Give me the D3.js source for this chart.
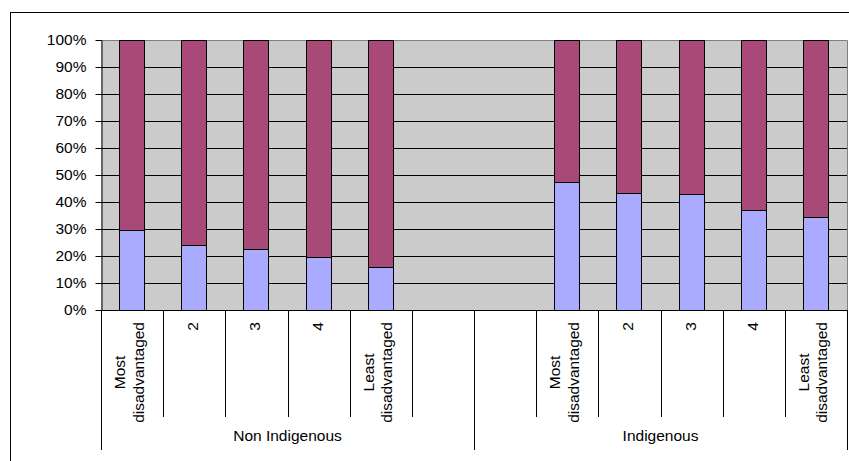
<!DOCTYPE html>
<html>
<head>
<meta charset="utf-8">
<script src="https://cdn.jsdelivr.net/npm/d3@7"></script>
<style>
  html, body { margin: 0; padding: 0; background: #fff; }
  svg { display: block; font-family: "Liberation Sans", Arial, sans-serif; }
</style>
</head>
<body>
<div id="chart-container"></div>
<script>
const width = 849;
const height = 461;
const plot = { left: 101, right: 847, top: 40, bottom: 310 };
const fontSize = 15.5;

// data (percent of each bar)
const groups = ["Non Indigenous", "Indigenous"];
const quintiles = ["Most disadvantaged", "2", "3", "4", "Least disadvantaged"];
const nonIndigenousLower = [29.6, 23.9, 22.5, 19.7, 15.8];
const nonIndigenousUpper = [70.4, 76.1, 77.5, 80.3, 84.2];
const indigenousLower = [47.3, 43.2, 42.8, 37.0, 34.6];
const indigenousUpper = [52.7, 56.8, 57.2, 63.0, 65.4];
const yTicks = [0, 10, 20, 30, 40, 50, 60, 70, 80, 90, 100];

const colors = { lower: "#aaaaff", upper: "#a84977", plotBg: "#cbcbcb" };

// twelve category slots: each group has a blank slot on the inside
const slots = [];
quintiles.forEach((q, i) => slots.push({ key: `n${i}`, group: 0, label: q, lower: nonIndigenousLower[i], upper: nonIndigenousUpper[i] }));
slots.push({ key: "n-blank", group: 0, label: "", lower: null, upper: null });
slots.push({ key: "i-blank", group: 1, label: "", lower: null, upper: null });
quintiles.forEach((q, i) => slots.push({ key: `i${i}`, group: 1, label: q, lower: indigenousLower[i], upper: indigenousUpper[i] }));

const svg = d3.select("#chart-container")
  .append("svg")
  .attr("width", width)
  .attr("height", height);

// chart border
svg.append("rect")
  .attr("x", 10.5).attr("y", 12.5)
  .attr("width", width + 10).attr("height", height + 10)
  .attr("fill", "#fff").attr("stroke", "#000");

const x = d3.scaleBand()
  .domain(slots.map((d) => d.key))
  .range([plot.left, plot.right])
  .padding(0);

const y = d3.scaleLinear().domain([0, 100]).range([plot.bottom, plot.top]);

// plot area
svg.append("rect")
  .attr("x", plot.left).attr("y", plot.top)
  .attr("width", plot.right - plot.left).attr("height", plot.bottom - plot.top)
  .attr("fill", colors.plotBg);

// gridlines
svg.append("g")
  .selectAll("line")
  .data(yTicks.filter((t) => t > 0 && t < 100))
  .join("line")
  .attr("x1", plot.left).attr("x2", plot.right)
  .attr("y1", (d) => Math.round(y(d)) + 0.5).attr("y2", (d) => Math.round(y(d)) + 0.5)
  .attr("stroke", "#000");

// plot border (grey top/right)
svg.append("path")
  .attr("d", `M${plot.left},${plot.top + 0.5}H${plot.right + 0.5}V${plot.bottom}`)
  .attr("fill", "none").attr("stroke", "#808080");

// bars
const barW = x.bandwidth() / 2.5;
const bars = svg.append("g");
slots.filter((d) => d.lower !== null).forEach((d) => {
  const bx = Math.floor(x(d.key) + (x.bandwidth() - barW) / 2) + 0.5;
  const total = d.lower + d.upper;
  const yl = y((d.lower / total) * 100);
  bars.append("rect")
    .attr("x", bx).attr("y", Math.round(yl) + 0.5)
    .attr("width", Math.round(barW)).attr("height", Math.round(y(0) - yl))
    .attr("fill", colors.lower).attr("stroke", "#000");
  bars.append("rect")
    .attr("x", bx).attr("y", Math.round(y(100)) + 0.5)
    .attr("width", Math.round(barW)).attr("height", Math.round(yl - y(100)))
    .attr("fill", colors.upper).attr("stroke", "#000");
});

// y axis
const yAxis = svg.append("g")
  .attr("transform", `translate(${plot.left + 0.5},0)`)
  .call(d3.axisLeft(y).tickValues(yTicks).tickFormat((d) => `${d}%`).tickSize(6).tickSizeOuter(0).tickPadding(9));
yAxis.select(".domain").attr("stroke", "#000");
yAxis.selectAll(".tick line").attr("stroke", "#000");
yAxis.selectAll(".tick text")
  .attr("font-size", fontSize)
  .attr("font-family", "\"Liberation Sans\", Arial, sans-serif")
  .attr("fill", "#000");

// category axis
svg.append("line")
  .attr("x1", plot.left).attr("x2", plot.right + 1)
  .attr("y1", plot.bottom + 0.5).attr("y2", plot.bottom + 0.5)
  .attr("stroke", "#000");

const boundaries = slots.map((d) => x(d.key)).concat([plot.right]);
const groupEdges = [0, 6, 12];
svg.append("g")
  .selectAll("line")
  .data(boundaries)
  .join("line")
  .attr("x1", (d) => Math.round(d) + 0.5).attr("x2", (d) => Math.round(d) + 0.5)
  .attr("y1", plot.bottom)
  .attr("y2", (d, i) => (groupEdges.includes(i) ? 450 : 417))
  .attr("stroke", "#000");

// rotated quintile labels
const labelTop = 322;
slots.filter((d) => d.label).forEach((d) => {
  const cx = x(d.key) + x.bandwidth() / 2;
  const words = d.label.split(" ");
  const offsets = words.length > 1 ? [-7, 11.5] : [4];
  const g = svg.append("g");
  const texts = words.map((w, i) =>
    g.append("text")
      .attr("text-anchor", "middle")
      .attr("font-size", fontSize)
      .attr("fill", "#000")
      .text(w)
      .attr("data-bx", cx + offsets[i])
  );
  const maxLen = d3.max(texts, (t) => t.node().getComputedTextLength());
  texts.forEach((t) => {
    t.attr("transform", `translate(${+t.attr("data-bx")},${labelTop + maxLen / 2}) rotate(-90)`)
      .attr("data-bx", null);
  });
});

// group labels
svg.append("g")
  .selectAll("text")
  .data(groups)
  .join("text")
  .attr("x", (d, i) => (boundaries[groupEdges[i]] + boundaries[groupEdges[i + 1]]) / 2)
  .attr("y", 441)
  .attr("text-anchor", "middle")
  .attr("font-size", fontSize)
  .attr("fill", "#000")
  .text((d) => d);
</script>
</body>
</html>
